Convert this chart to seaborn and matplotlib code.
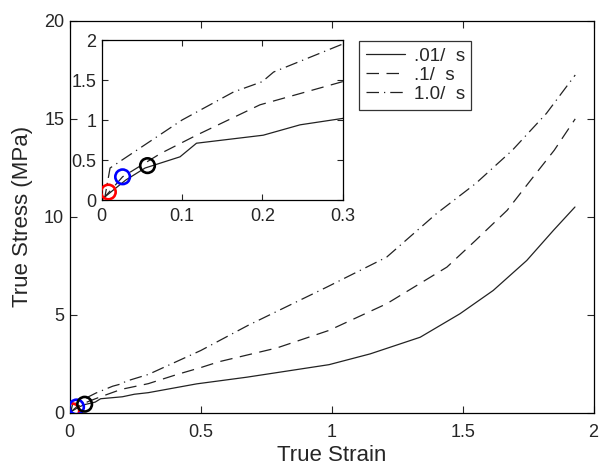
import numpy as np
import pandas as pd
import matplotlib
matplotlib.use("Agg")
import matplotlib.pyplot as plt
import seaborn as sns

# ---- data ----
strain_001 = [0.0, 0.004, 0.03, 0.054, 0.0975, 0.118, 0.201, 0.247, 0.3, 0.485, 0.676, 0.99, 1.147, 1.338, 1.49, 1.617, 1.745, 1.847, 1.929]
stress_001 = [0.0, 0.04, 0.25, 0.40, 0.54, 0.71, 0.81, 0.94, 1.02, 1.47, 1.81, 2.45, 3.0, 3.85, 5.05, 6.24, 7.77, 9.31, 10.5]

strain_01 = [0.0, 0.004, 0.026, 0.073, 0.118, 0.197, 0.3, 0.41, 0.5, 0.57, 0.79, 0.99, 1.21, 1.44, 1.55, 1.67, 1.76, 1.85, 1.93]
stress_01 = [0.0, 0.04, 0.29, 0.58, 0.81, 1.19, 1.48, 1.95, 2.3, 2.6, 3.3, 4.2, 5.56, 7.43, 8.8, 10.33, 11.87, 13.4, 15.0]

strain_1 = [0.0, 0.004, 0.0104, 0.1, 0.164, 0.2, 0.214, 0.3, 0.5, 0.68, 0.98, 1.21, 1.40, 1.55, 1.69, 1.82, 1.93]
stress_1 = [0.0, 0.04, 0.40, 1.0, 1.35, 1.48, 1.6, 1.95, 3.17, 4.45, 6.4, 7.94, 10.16, 11.7, 13.4, 15.28, 17.24]

rate_labels = [".01/  s", ".1/  s", "1.0/  s"]

circle_strain = [0.0083, 0.026, 0.057]
circle_stress = [0.10, 0.29, 0.43]
circle_colors = ["#ff0000", "#0000ff", "#000000"]

main_xticks = [0, 0.5, 1, 1.5, 2]
main_xticklabels = ["0", "0.5", "1", "1.5", "2"]
main_yticks = [0, 5, 10, 15, 20]
main_yticklabels = ["0", "5", "10", "15", "20"]
inset_xticks = [0, 0.1, 0.2, 0.3]
inset_xticklabels = ["0", "0.1", "0.2", "0.3"]
inset_yticks = [0, 0.5, 1, 1.5, 2]
inset_yticklabels = ["0", "0.5", "1", "1.5", "2"]

# ---- build long table ----
frames = []
for lab, xs, ys in zip(rate_labels, [strain_001, strain_01, strain_1], [stress_001, stress_01, stress_1]):
    frames.append(pd.DataFrame({"strain": xs, "stress": ys, "rate": lab}))
df = pd.concat(frames, ignore_index=True)

sns.set_style("white")
plt.rcParams["font.family"] = ["Liberation Sans", "DejaVu Sans"]

fig = plt.figure(figsize=(5.99, 4.66), dpi=100)
ax = fig.add_axes([0.1164, 0.1145, 0.8745, 0.8405])

dash_map = {rate_labels[0]: "", rate_labels[1]: (10, 6), rate_labels[2]: (10, 4, 1, 4)}


def draw(a, legend):
    sns.lineplot(data=df, x="strain", y="stress", hue="rate", style="rate",
                 palette=["#222222"] * 3, dashes=dash_map, sort=False,
                 estimator=None, linewidth=0.9, legend=legend, ax=a)
    for xc, yc, cc in zip(circle_strain, circle_stress, circle_colors):
        sns.scatterplot(x=[xc], y=[yc], s=110, marker="o", facecolors="none",
                        edgecolor=cc, linewidth=1.9, ax=a, zorder=5)


draw(ax, True)
ax.set_xlim(0, 2)
ax.set_ylim(0, 20)
ax.set_xticks(main_xticks)
ax.set_xticklabels(main_xticklabels)
ax.set_yticks(main_yticks)
ax.set_yticklabels(main_yticklabels)
ax.set_xlabel("True Strain", fontsize=16, labelpad=3)
ax.set_ylabel("True Stress (MPa)", fontsize=16, labelpad=8)
ax.tick_params(direction="in", length=5, width=0.8, top=True, right=True,
               labelsize=13, bottom=True, left=True)
ax.tick_params(axis="x", pad=8)
ax.tick_params(axis="y", pad=4)
for s in ax.spines.values():
    s.set_color("black")
    s.set_linewidth(0.9)

leg = ax.legend(loc="upper left", bbox_to_anchor=(0.553, 0.948), fontsize=13.5,
                frameon=True, fancybox=False, borderpad=0.35, labelspacing=0.1,
                handlelength=2.1, handletextpad=0.45, borderaxespad=0)
leg.get_frame().set_edgecolor("black")
leg.get_frame().set_linewidth(0.9)
for h in leg.get_lines():
    h.set_linewidth(0.9)

ins = fig.add_axes([0.1698, 0.5708, 0.4023, 0.3433])
draw(ins, False)
ins.set_xlim(0, 0.3)
ins.set_ylim(0, 2)
ins.set_xticks(inset_xticks)
ins.set_xticklabels(inset_xticklabels)
ins.set_yticks(inset_yticks)
ins.set_yticklabels(inset_yticklabels)
ins.set_xlabel("")
ins.set_ylabel("")
ins.tick_params(direction="in", length=4, width=0.8, top=True, right=True,
                labelsize=13, bottom=True, left=True)
ins.tick_params(axis="x", pad=6)
ins.tick_params(axis="y", pad=4)
for s in ins.spines.values():
    s.set_color("black")
    s.set_linewidth(0.9)

fig.savefig("out.png", dpi=100)
